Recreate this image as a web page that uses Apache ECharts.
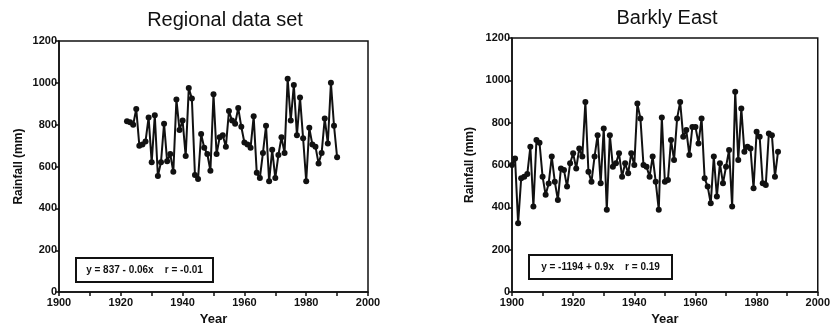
<!DOCTYPE html>
<html>
<head>
<meta charset="utf-8">
<script src="https://cdn.jsdelivr.net/npm/echarts@6/dist/echarts.min.js"></script>
<style>
html,body{margin:0;padding:0;background:#fff;}
#chart{width:833px;height:331px;}
</style>
</head>
<body>
<div id="chart"></div>
<script>
// ---- Data ----
var regionalYears = [1922,1923,1924,1925,1926,1927,1928,1929,1930,1931,1932,1933,1934,1935,1936,1937,1938,1939,1940,1941,1942,1943,1944,1945,1946,1947,1948,1949,1950,1951,1952,1953,1954,1955,1956,1957,1958,1959,1960,1961,1962,1963,1964,1965,1966,1967,1968,1969,1970,1971,1972,1973,1974,1975,1976,1977,1978,1979,1980,1981,1982,1983,1984,1985,1986,1987,1988,1989,1990];
var regionalRain = [817,812,800,875,700,705,720,835,620,845,555,620,805,625,660,575,920,775,820,650,975,925,560,540,755,690,660,580,945,660,740,750,695,865,820,805,880,790,715,705,690,840,570,545,665,795,530,680,545,655,740,665,1020,820,990,750,930,735,530,785,705,695,615,665,830,710,1000,795,645];

var barklyYears = [1900,1901,1902,1903,1904,1905,1906,1907,1908,1909,1910,1911,1912,1913,1914,1915,1916,1917,1918,1919,1920,1921,1922,1923,1924,1925,1926,1927,1928,1929,1930,1931,1932,1933,1934,1935,1936,1937,1938,1939,1940,1941,1942,1943,1944,1945,1946,1947,1948,1949,1950,1951,1952,1953,1954,1955,1956,1957,1958,1959,1960,1961,1962,1963,1964,1965,1966,1967,1968,1969,1970,1971,1972,1973,1974,1975,1976,1977,1978,1979,1980,1981,1982,1983,1984,1985,1986,1987];
var barklyRain = [600,631,325,537,545,557,686,404,718,705,545,459,513,640,521,435,584,576,498,608,655,584,678,640,898,568,521,640,741,514,773,388,741,592,608,655,545,608,561,655,600,890,820,600,592,545,640,521,388,824,521,529,718,624,820,898,733,765,647,780,780,702,820,537,498,419,640,451,608,514,592,671,404,946,624,867,663,686,678,490,757,733,514,506,749,741,545,663];

var titles = ['Regional data set', 'Barkly East'];
var equations = ['y = 837 - 0.06x    r = -0.01', 'y = -1194 + 0.9x    r = 0.19'];
var xTicks = {min: 1900, max: 2000, step: 20};
var yTicks = {min: 0, max: 1200, step: 200};
var xName = 'Year';
var yName = 'Rainfall (mm)';

function pairs(xs, ys) {
  var out = [];
  for (var i = 0; i < xs.length; i++) out.push([xs[i], ys[i]]);
  return out;
}

var FONT = '"Liberation Sans", Arial, sans-serif';
var INK = '#111';
function plain(v) { return String(v); }

function xAxisCfg(idx) {
  return {
    gridIndex: idx, type: 'value',
    min: xTicks.min, max: xTicks.max, interval: xTicks.step,
    name: xName, nameLocation: 'middle', nameGap: 19,
    nameTextStyle: {fontFamily: FONT, fontSize: 13, fontWeight: 'bold', color: INK},
    axisLine: {show: true, lineStyle: {color: INK, width: 1.5}},
    axisTick: {show: true, length: 4, lineStyle: {color: INK, width: 1.5}},
    minorTick: {show: true, splitNumber: 2, length: 4, lineStyle: {color: INK, width: 1.5}},
    axisLabel: {fontFamily: FONT, fontSize: 11, fontWeight: 'bold', color: INK, margin: 5, formatter: plain},
    splitLine: {show: false}
  };
}
function yAxisCfg(idx, gap) {
  return {
    gridIndex: idx, type: 'value',
    min: yTicks.min, max: yTicks.max, interval: yTicks.step,
    name: yName, nameLocation: 'middle', nameGap: gap, nameRotate: 90,
    nameTextStyle: {fontFamily: FONT, fontSize: 12, fontWeight: 'bold', color: INK},
    axisLine: {show: true, lineStyle: {color: INK, width: 1.5}},
    axisTick: {show: true, length: 4, lineStyle: {color: INK, width: 1.5}},
    axisLabel: {fontFamily: FONT, fontSize: 11, fontWeight: 'bold', color: INK, margin: 2, formatter: plain},
    splitLine: {show: false}
  };
}
function seriesCfg(idx, data) {
  return {
    type: 'line', xAxisIndex: idx, yAxisIndex: idx,
    data: data, symbol: 'circle', symbolSize: 6,
    lineStyle: {color: INK, width: 2},
    itemStyle: {color: INK},
    animation: false
  };
}
function eqBox(x, y, w, h, text) {
  return {
    type: 'group', left: x, top: y,
    children: [
      {type: 'rect', shape: {x: 0, y: 0, width: w, height: h},
       style: {fill: '#fff', stroke: INK, lineWidth: 2}},
      {type: 'text', x: w / 2, y: h / 2,
       style: {text: text, fill: INK, font: 'bold 10px ' + FONT, textAlign: 'center', textVerticalAlign: 'middle'}}
    ]
  };
}

var chart = echarts.init(document.getElementById('chart'), null, {renderer: 'canvas'});
chart.setOption({
  backgroundColor: '#fff',
  animation: false,
  title: [
    {text: titles[0], left: 220, top: 5, textAlign: 'center',
     textStyle: {fontFamily: FONT, fontSize: 20, fontWeight: 'normal', color: INK}},
    {text: titles[1], left: 662, top: 3, textAlign: 'center',
     textStyle: {fontFamily: FONT, fontSize: 20, fontWeight: 'normal', color: INK}}
  ],
  grid: [
    {left: 59, right: 465, top: 41, bottom: 35, show: true, borderColor: INK, borderWidth: 1.5, backgroundColor: 'transparent'},
    {left: 512, right: 13, top: 38, bottom: 39, show: true, borderColor: INK, borderWidth: 1.5, backgroundColor: 'transparent'}
  ],
  xAxis: [xAxisCfg(0), xAxisCfg(1)],
  yAxis: [yAxisCfg(0, 34), yAxisCfg(1, 36)],
  series: [
    seriesCfg(0, pairs(regionalYears, regionalRain)),
    seriesCfg(1, pairs(barklyYears, barklyRain))
  ],
  graphic: [
    eqBox(75, 257, 137, 24, equations[0]),
    eqBox(528, 254, 143, 24, equations[1])
  ]
});
</script>
</body>
</html>
